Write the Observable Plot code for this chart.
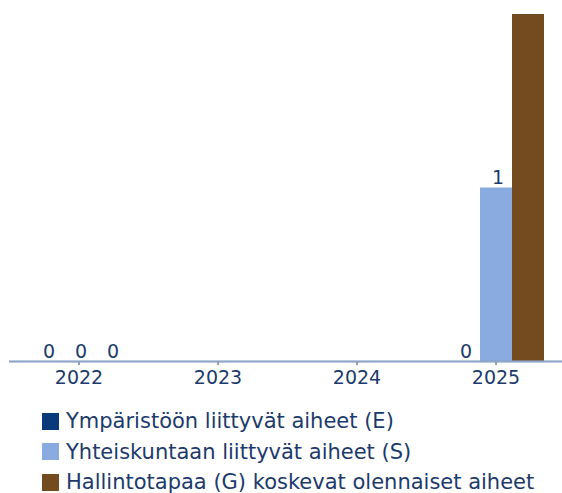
<!DOCTYPE html>
<html>
<head>
<meta charset="utf-8">
<script src="https://cdn.jsdelivr.net/npm/d3@7"></script>
<script src="https://cdn.jsdelivr.net/npm/@observablehq/plot@0.6"></script>
<style>
  html, body { margin: 0; padding: 0; background: #fff; }
  body { width: 562px; height: 493px; overflow: hidden; font-family: "DejaVu Sans", sans-serif; }
  #legend { margin: 11px 0 0 42px; }
  .row { display: flex; align-items: center; height: 30.5px; font-size: 21px; color: #1c3a6b; }
  .sw { width: 17px; height: 17px; margin-right: 7px; flex: none; }
</style>
</head>
<body>
<div id="chart"></div>
<div id="legend"></div>
<script>
const years = ["2022", "2023", "2024", "2025"];
const seriesKeys = ["E", "S", "G"];
const seriesNames = [
  "Ympäristöön liittyvät aiheet (E)",
  "Yhteiskuntaan liittyvät aiheet (S)",
  "Hallintotapaa (G) koskevat olennaiset aiheet"
];
const seriesColors = ["#0b3a7c", "#8aabe0", "#744a1f"];
const valuesE = [0, null, null, 0];
const valuesS = [0, null, null, 1];
const valuesG = [0, null, null, 2];

const allValues = [valuesE, valuesS, valuesG];
const data = [];
years.forEach((y, i) => {
  seriesKeys.forEach((k, j) => {
    data.push({year: y, key: k, value: allValues[j][i]});
  });
});
const yMax = 2;
// labels only where they fit inside the frame (the top one is cut off in the original)
const labeled = data.filter(d => d.value != null && d.value < yMax);

const textColor = "#1c3a6b";
const axisColor = "#8da5c8";
const chart = Plot.plot({
  width: 562,
  height: 395,
  marginTop: 14,
  marginBottom: 34,
  marginLeft: 8,
  marginRight: -4,
  style: {fontFamily: "'DejaVu Sans', sans-serif", fontSize: "19px", color: textColor, background: "#fff"},
  fx: {domain: years, padding: 0, label: null, axis: "bottom", tickSize: 4, tickPadding: 5},
  x: {domain: seriesKeys, paddingInner: 0, paddingOuter: 0.67, axis: null},
  y: {domain: [0, yMax], axis: null},
  color: {domain: seriesKeys, range: seriesColors},
  marks: [
    Plot.barY(data, {fx: "year", x: "key", y: "value", fill: "key"}),
    Plot.text(labeled, {fx: "year", x: "key", y: "value", text: d => String(d.value),
      lineAnchor: "bottom", dy: -4, dx: 1.5, fill: textColor, fontSize: 19}),
    Plot.ruleY(data, {fx: "year", y: () => 0, stroke: axisColor, strokeWidth: 1.5})
  ]
});
chart.querySelectorAll("[aria-label='fx-axis tick']").forEach(e => e.setAttribute("stroke", axisColor));
document.getElementById("chart").appendChild(chart);

const legend = document.getElementById("legend");
seriesNames.forEach((n, i) => {
  const row = document.createElement("div");
  row.className = "row";
  const sw = document.createElement("span");
  sw.className = "sw";
  sw.style.background = seriesColors[i];
  const t = document.createElement("span");
  t.textContent = n;
  row.appendChild(sw); row.appendChild(t);
  legend.appendChild(row);
});
</script>
</body>
</html>
